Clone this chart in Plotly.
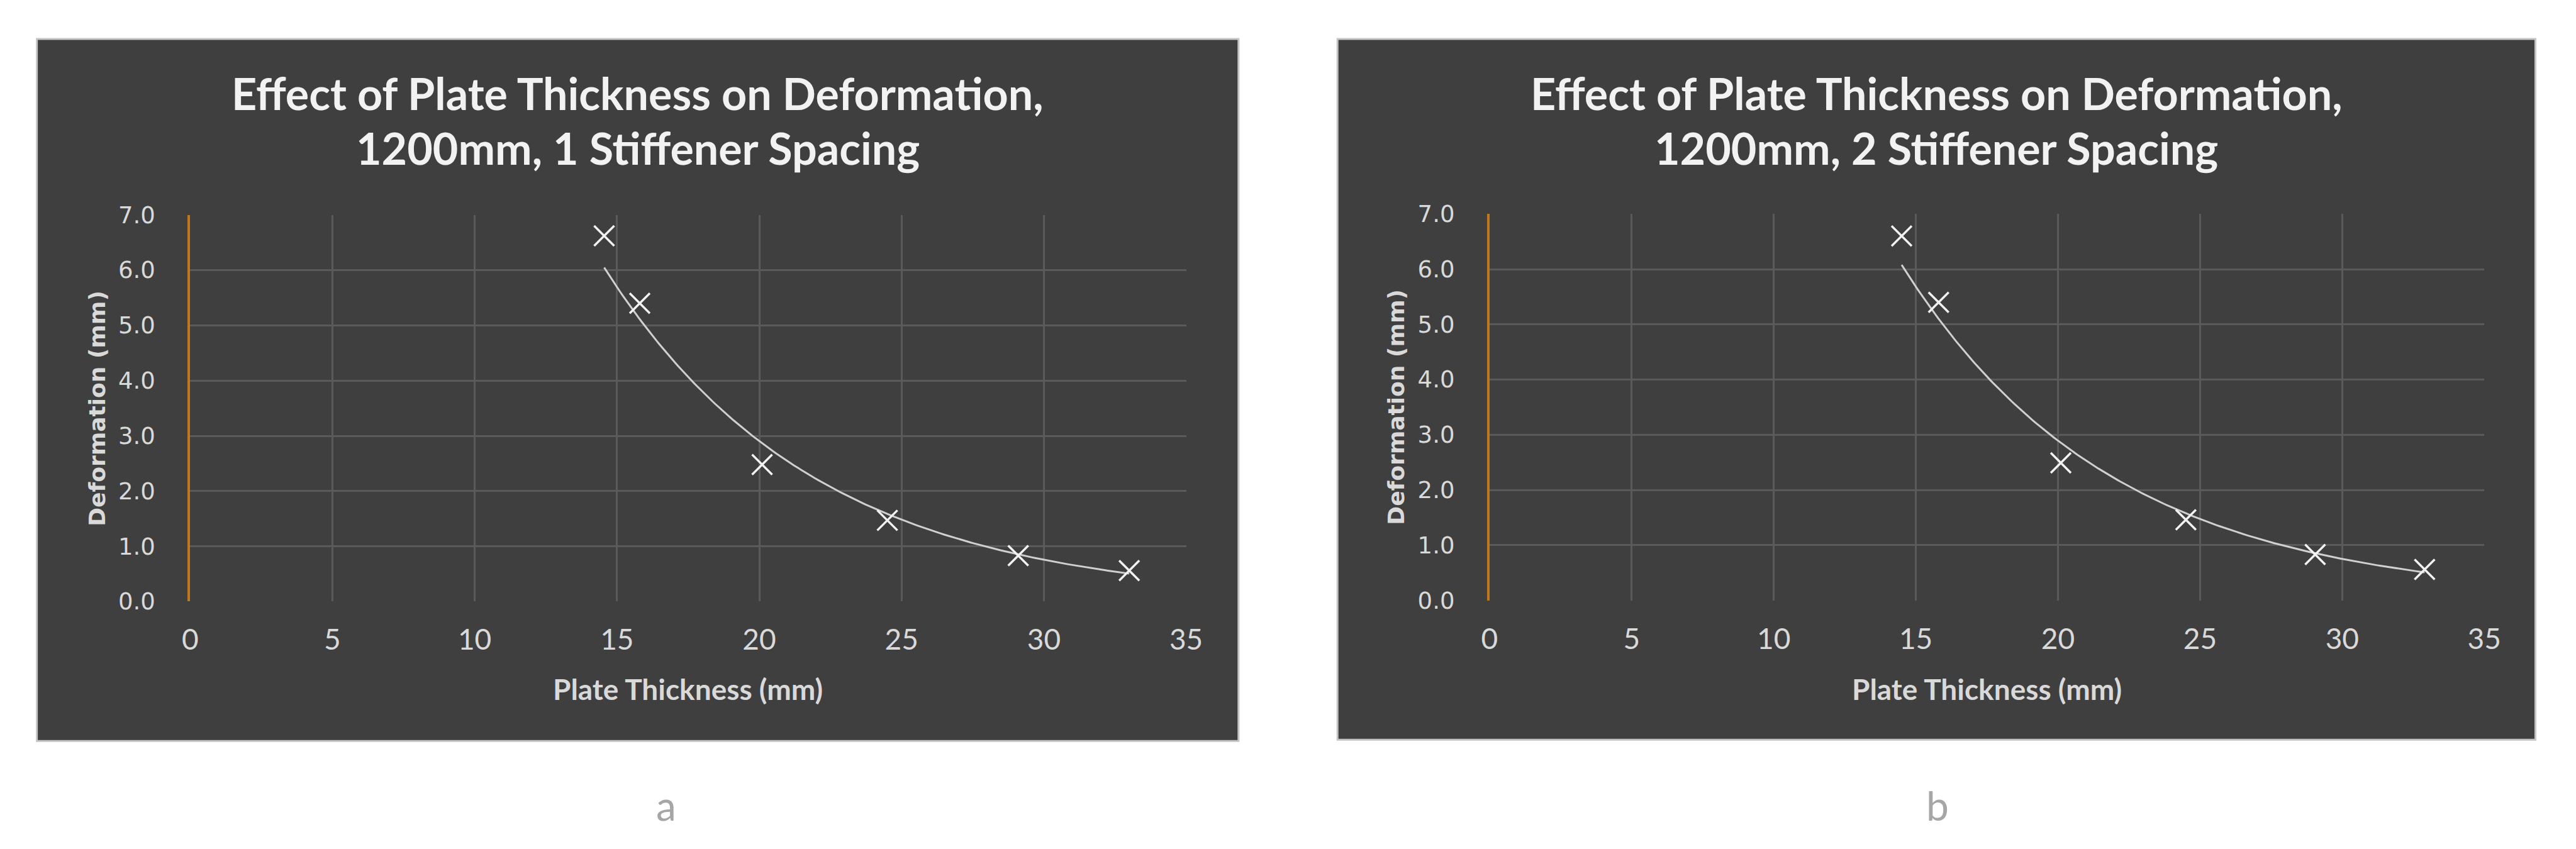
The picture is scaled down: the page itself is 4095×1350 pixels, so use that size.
import numpy as np
import plotly.graph_objects as go

# ---- data ----
thickness_a = [14.55, 15.8, 20.1, 24.5, 29.1, 33.0]
deform_a = [6.62, 5.40, 2.48, 1.47, 0.83, 0.56]
thickness_b = [14.5, 15.8, 20.1, 24.5, 29.05, 32.9]
deform_b = [6.60, 5.40, 2.49, 1.46, 0.83, 0.56]

titles = ["Effect of Plate Thickness on Deformation,",
          "1200mm, 1 Stiffener Spacing",
          "1200mm, 2 Stiffener Spacing"]
captions = ["a", "b"]
x_ticks = [0, 5, 10, 15, 20, 25, 30, 35]
y_ticks = [0, 1, 2, 3, 4, 5, 6, 7]

W, H = 4095, 1350
BG = "#3f3f3f"
GRID = "#5a5a5a"
TXT = "#d9d9d9"
TITLE_C = "#f2f2f2"
ORANGE = "#c0781a"
CAL = "Lato"
VER = "DejaVu Sans"


def px(x):
    return x / W


def py(y):
    return 1 - y / H


def exp_fit(x, y):
    b, a = np.polyfit(np.array(x), np.log(np.array(y)), 1)
    xs = np.linspace(min(x), max(x), 200)
    return xs, np.exp(a) * np.exp(b * xs)


fig = go.Figure()

panels = [
    dict(xs=thickness_a, ys=deform_a, box=(38, 34, 1967, 1187), plot=(284, 323, 1883, 958),
         title2=titles[1], cap=captions[0], capx=1048, ax=""),
    dict(xs=thickness_b, ys=deform_b, box=(2126, 34, 4049, 1185), plot=(2370, 321.5, 3967, 956),
         title2=titles[2], cap=captions[1], capx=3089, ax="2"),
]

shapes = []
annotations = []
for p in panels:
    x0, y0, x1, y1 = p["box"]
    shapes.append(dict(type="rect", xref="paper", yref="paper", x0=px(x0), x1=px(x1), y0=py(y1), y1=py(y0),
                       fillcolor=BG, line=dict(color="#c4c4c4", width=3), layer="below"))
    bx = (x0 + x1) / 2
    pl0, pt0, pr0, pb0 = p["plot"]
    pcx = (pl0 + pr0) / 2
    pcy = (pt0 + pb0) / 2
    annotations += [
        dict(text="<b>" + titles[0] + "</b>", x=px(bx), y=py(123), xref="paper", yref="paper",
             showarrow=False, xanchor="center", yanchor="middle", font=dict(family=CAL, size=70, color=TITLE_C)),
        dict(text="<b>" + p["title2"] + "</b>", x=px(bx), y=py(213), xref="paper", yref="paper",
             showarrow=False, xanchor="center", yanchor="middle", font=dict(family=CAL, size=70, color=TITLE_C)),
        dict(text="<b>Plate Thickness (mm)</b>", x=px(pcx), y=py(1102), xref="paper", yref="paper",
             showarrow=False, xanchor="center", yanchor="middle", font=dict(family=CAL, size=46, color=TXT)),
        dict(text="<b>Deformation (mm)</b>", x=px(pl0 - 150), y=py(pcy), xref="paper", yref="paper",
             showarrow=False, xanchor="center", yanchor="middle", textangle=-90,
             font=dict(family=VER, size=36, color=TXT)),
        dict(text=p["cap"], x=px(p["capx"]), y=py(1293), xref="paper", yref="paper",
             showarrow=False, xanchor="center", yanchor="middle", font=dict(family=CAL, size=64, color="#a6a6a6")),
    ]

    xs_fit, ys_fit = exp_fit(p["xs"], p["ys"])
    fig.add_trace(go.Scatter(x=xs_fit, y=ys_fit, mode="lines", line=dict(color="#d0d0d0", width=3),
                             xaxis="x" + p["ax"], yaxis="y" + p["ax"], showlegend=False, hoverinfo="skip"))
    fig.add_trace(go.Scatter(x=p["xs"], y=p["ys"], mode="markers",
                             marker=dict(symbol="x-thin", size=32, line=dict(color="#f2f2f2", width=3.5)),
                             xaxis="x" + p["ax"], yaxis="y" + p["ax"], showlegend=False))

    xa = dict(domain=[px(pl0), px(pr0)], range=[0, 35], tickvals=x_ticks, ticktext=[str(t) for t in x_ticks],
              showgrid=True, gridcolor=GRID, gridwidth=3, zeroline=False, showline=False, ticks="",
              ticklabelstandoff=30, tickfont=dict(family=CAL, size=46, color=TXT),
              anchor="y" + p["ax"], fixedrange=True)
    ya = dict(domain=[py(pb0), py(pt0)], range=[0, 7], tickvals=y_ticks, ticktext=[f"{t:.1f}" for t in y_ticks],
              showgrid=True, gridcolor=GRID, gridwidth=3, zeroline=False, showline=True, linecolor=ORANGE,
              linewidth=4, ticks="", ticklabelstandoff=44, tickfont=dict(family=VER, size=37, color=TXT),
              anchor="x" + p["ax"], fixedrange=True)
    fig.layout["xaxis" + p["ax"]] = xa
    fig.layout["yaxis" + p["ax"]] = ya

fig.update_layout(width=W, height=H, margin=dict(l=0, r=0, t=0, b=0),
                  paper_bgcolor="white", plot_bgcolor=BG, shapes=shapes, annotations=annotations)

fig.write_html("out.html")
